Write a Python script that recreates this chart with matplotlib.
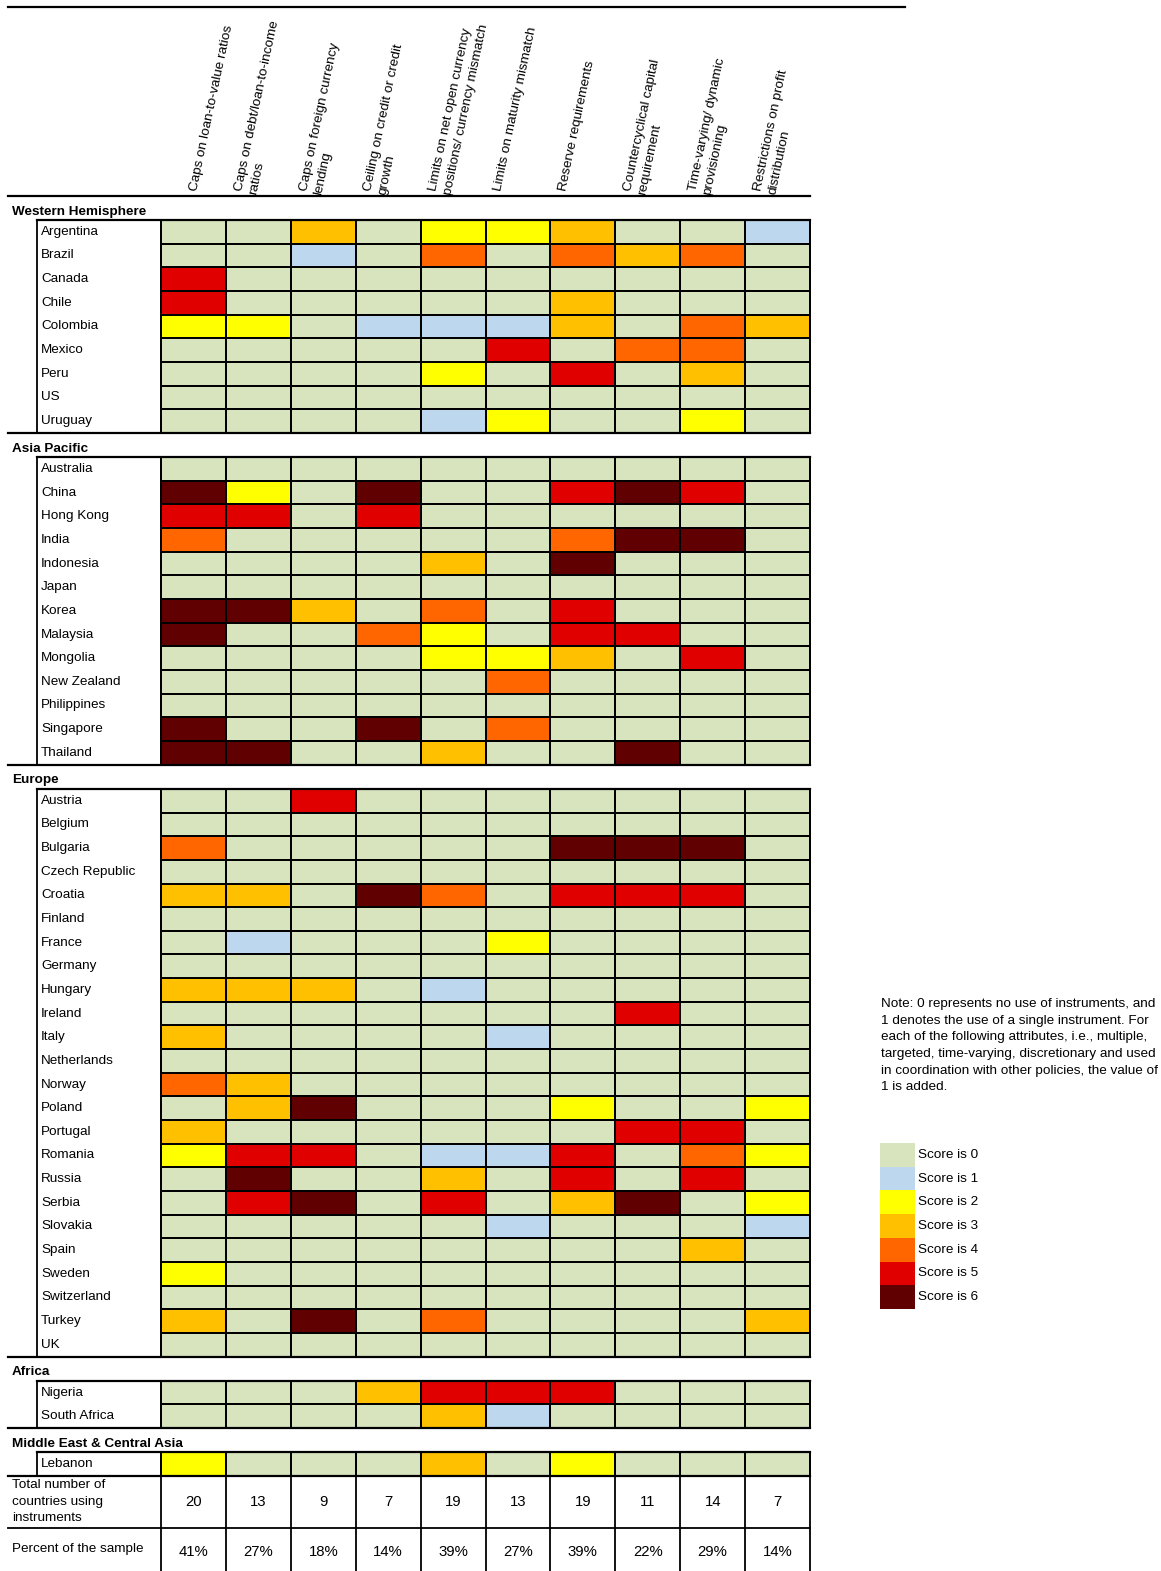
"""
Macroprudential instrument usage scores by country, drawn as a table-style heatmap.
"""

import matplotlib.pyplot as plt
import numpy as np
from matplotlib.colors import BoundaryNorm, ListedColormap

plt.rcParams["font.family"] = ["Liberation Sans", "DejaVu Sans"]

# Column headers (instruments).
instruments = [
    "Caps on loan-to-value ratios",
    "Caps on debt/loan-to-income\nratios",
    "Caps on foreign currency\nlending",
    "Ceiling on credit or credit\ngrowth",
    "Limits on net open currency\npositions/ currency mismatch",
    "Limits on maturity mismatch",
    "Reserve requirements",
    "Countercyclical capital\nrequirement",
    "Time-varying/ dynamic\nprovisioning",
    "Restrictions on profit\ndistribution",
]

score_colors = ["#D7E4BD", "#BDD7EE", "#FFFF00", "#FFC000", "#FF6600", "#E00000", "#600000"]
score_labels = [f"Score is {i}" for i in range(7)]

western_countries = ["Argentina", "Brazil", "Canada", "Chile", "Colombia", "Mexico", "Peru", "US", "Uruguay"]
western_scores = [
    [0, 0, 3, 0, 2, 2, 3, 0, 0, 1],
    [0, 0, 1, 0, 4, 0, 4, 3, 4, 0],
    [5, 0, 0, 0, 0, 0, 0, 0, 0, 0],
    [5, 0, 0, 0, 0, 0, 3, 0, 0, 0],
    [2, 2, 0, 1, 1, 1, 3, 0, 4, 3],
    [0, 0, 0, 0, 0, 5, 0, 4, 4, 0],
    [0, 0, 0, 0, 2, 0, 5, 0, 3, 0],
    [0, 0, 0, 0, 0, 0, 0, 0, 0, 0],
    [0, 0, 0, 0, 1, 2, 0, 0, 2, 0],
]

asia_countries = [
    "Australia", "China", "Hong Kong", "India", "Indonesia", "Japan", "Korea",
    "Malaysia", "Mongolia", "New Zealand", "Philippines", "Singapore", "Thailand",
]
asia_scores = [
    [0, 0, 0, 0, 0, 0, 0, 0, 0, 0],
    [6, 2, 0, 6, 0, 0, 5, 6, 5, 0],
    [5, 5, 0, 5, 0, 0, 0, 0, 0, 0],
    [4, 0, 0, 0, 0, 0, 4, 6, 6, 0],
    [0, 0, 0, 0, 3, 0, 6, 0, 0, 0],
    [0, 0, 0, 0, 0, 0, 0, 0, 0, 0],
    [6, 6, 3, 0, 4, 0, 5, 0, 0, 0],
    [6, 0, 0, 4, 2, 0, 5, 5, 0, 0],
    [0, 0, 0, 0, 2, 2, 3, 0, 5, 0],
    [0, 0, 0, 0, 0, 4, 0, 0, 0, 0],
    [0, 0, 0, 0, 0, 0, 0, 0, 0, 0],
    [6, 0, 0, 6, 0, 4, 0, 0, 0, 0],
    [6, 6, 0, 0, 3, 0, 0, 6, 0, 0],
]

europe_countries = [
    "Austria", "Belgium", "Bulgaria", "Czech Republic", "Croatia", "Finland",
    "France", "Germany", "Hungary", "Ireland", "Italy", "Netherlands", "Norway",
    "Poland", "Portugal", "Romania", "Russia", "Serbia", "Slovakia", "Spain",
    "Sweden", "Switzerland", "Turkey", "UK",
]
europe_scores = [
    [0, 0, 5, 0, 0, 0, 0, 0, 0, 0],
    [0, 0, 0, 0, 0, 0, 0, 0, 0, 0],
    [4, 0, 0, 0, 0, 0, 6, 6, 6, 0],
    [0, 0, 0, 0, 0, 0, 0, 0, 0, 0],
    [3, 3, 0, 6, 4, 0, 5, 5, 5, 0],
    [0, 0, 0, 0, 0, 0, 0, 0, 0, 0],
    [0, 1, 0, 0, 0, 2, 0, 0, 0, 0],
    [0, 0, 0, 0, 0, 0, 0, 0, 0, 0],
    [3, 3, 3, 0, 1, 0, 0, 0, 0, 0],
    [0, 0, 0, 0, 0, 0, 0, 5, 0, 0],
    [3, 0, 0, 0, 0, 1, 0, 0, 0, 0],
    [0, 0, 0, 0, 0, 0, 0, 0, 0, 0],
    [4, 3, 0, 0, 0, 0, 0, 0, 0, 0],
    [0, 3, 6, 0, 0, 0, 2, 0, 0, 2],
    [3, 0, 0, 0, 0, 0, 0, 5, 5, 0],
    [2, 5, 5, 0, 1, 1, 5, 0, 4, 2],
    [0, 6, 0, 0, 3, 0, 5, 0, 5, 0],
    [0, 5, 6, 0, 5, 0, 3, 6, 0, 2],
    [0, 0, 0, 0, 0, 1, 0, 0, 0, 1],
    [0, 0, 0, 0, 0, 0, 0, 0, 3, 0],
    [2, 0, 0, 0, 0, 0, 0, 0, 0, 0],
    [0, 0, 0, 0, 0, 0, 0, 0, 0, 0],
    [3, 0, 6, 0, 4, 0, 0, 0, 0, 3],
    [0, 0, 0, 0, 0, 0, 0, 0, 0, 0],
]

africa_countries = ["Nigeria", "South Africa"]
africa_scores = [
    [0, 0, 0, 3, 5, 5, 5, 0, 0, 0],
    [0, 0, 0, 0, 3, 1, 0, 0, 0, 0],
]

mideast_countries = ["Lebanon"]
mideast_scores = [
    [2, 0, 0, 0, 3, 0, 2, 0, 0, 0],
]

sections = [
    ("Western Hemisphere", western_countries, western_scores),
    ("Asia Pacific", asia_countries, asia_scores),
    ("Europe", europe_countries, europe_scores),
    ("Africa", africa_countries, africa_scores),
    ("Middle East & Central Asia", mideast_countries, mideast_scores),
]

total_counts = [20, 13, 9, 7, 19, 13, 19, 11, 14, 7]
percent_of_sample = ["41%", "27%", "18%", "14%", "39%", "27%", "39%", "22%", "29%", "14%"]

note_text = (
    "Note: 0 represents no use of instruments, and\n"
    "1 denotes the use of a single instrument. For\n"
    "each of the following attributes, i.e., multiple,\n"
    "targeted, time-varying, discretionary and used\n"
    "in coordination with other policies, the value of\n"
    "1 is added."
)

# Figure works in pixel units so the table layout maps directly.
W, H = 1161, 1571
fig = plt.figure(figsize=(W / 100, H / 100), dpi=100)
ax = fig.add_axes([0, 0, 1, 1])
ax.set_xlim(0, W)
ax.set_ylim(H, 0)
ax.axis("off")

FS = 9.7
cmap = ListedColormap(score_colors)
norm = BoundaryNorm(np.arange(-0.5, len(score_colors) + 0.5, 1), cmap.N)

left_edge, box_left, grid_left, grid_right = 8, 37, 161, 810
n_cols = len(instruments)
col_w = (grid_right - grid_left) / n_cols
col_edges = grid_left + col_w * np.arange(n_cols + 1)
row_h = 23.65
gap = 24.3

# Top rule and header rule.
ax.plot([left_edge, 905], [6.5, 6.5], color="black", lw=1.6)
header_y = 195.7
ax.plot([left_edge, grid_right], [header_y, header_y], color="black", lw=1.6)

for j, name in enumerate(instruments):
    dx = 27 if j == 0 else 7
    ax.text(col_edges[j] + dx, 190, name, rotation=78, rotation_mode="anchor",
            ha="left", va="top", fontsize=FS, linespacing=1.3)

top = header_y + gap
for k, (title, countries, scores) in enumerate(sections):
    n = len(countries)
    row_edges = top + row_h * np.arange(n + 1)
    bottom = row_edges[-1]
    ax.text(12, top - 8.5, title, fontsize=FS, fontweight="bold", va="center")
    ax.pcolormesh(col_edges, row_edges, np.array(scores), cmap=cmap, norm=norm,
                  edgecolors="black", linewidth=1.2)
    for i, country in enumerate(countries):
        ax.text(41, top + (i + 0.5) * row_h, country, va="center", fontsize=FS)
    ax.plot([box_left, grid_right], [top, top], color="black", lw=1.6)
    ax.plot([left_edge, grid_right], [bottom, bottom], color="black", lw=1.6)
    ax.plot([box_left, box_left], [top, bottom], color="black", lw=1.3)
    ax.plot([grid_left, grid_left], [top, bottom], color="black", lw=1.3)
    ax.plot([grid_right, grid_right], [top, bottom], color="black", lw=1.3)
    top = bottom + (gap if k < len(sections) - 1 else 0)

# Summary rows.
total_top = top
total_bottom = total_top + 51.5
pct_center = total_bottom + 24
for x in col_edges:
    ax.plot([x, x], [total_top, H + 5], color="black", lw=1.3)
ax.plot([left_edge, grid_right], [total_bottom, total_bottom], color="black", lw=1.3)
ax.text(12, (total_top + total_bottom) / 2, "Total number of\ncountries using\ninstruments",
        va="center", fontsize=FS, linespacing=1.5)
ax.text(12, pct_center - 3, "Percent of the sample", va="center", fontsize=FS)
centers = (col_edges[:-1] + col_edges[1:]) / 2
for cx, count, pct in zip(centers, total_counts, percent_of_sample):
    ax.text(cx, (total_top + total_bottom) / 2, str(count), ha="center", va="center", fontsize=FS + 1)
    ax.text(cx, pct_center, pct, ha="center", va="center", fontsize=FS + 1)

# Note and colour key.
ax.text(881, 998, note_text, va="top", fontsize=FS, linespacing=1.52)
key_top, key_h = 1143, 23.7
for k, (color, label) in enumerate(zip(score_colors, score_labels)):
    ax.bar(897.5, key_h, width=35, bottom=key_top + k * key_h, color=color, linewidth=0)
    ax.text(918, key_top + (k + 0.5) * key_h, label, va="center", fontsize=FS)

fig.savefig("out.png", dpi=100)
